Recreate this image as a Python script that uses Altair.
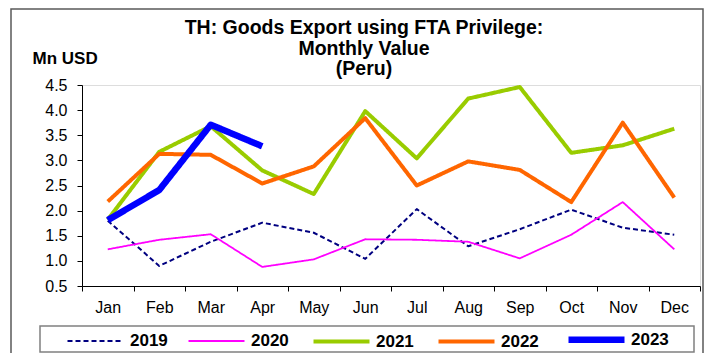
import altair as alt
import pandas as pd

months = ["Jan", "Feb", "Mar", "Apr", "May", "Jun", "Jul", "Aug", "Sep", "Oct", "Nov", "Dec"]
years = ["2019", "2020", "2021", "2022", "2023"]
v2019 = [1.80, 0.90, 1.38, 1.76, 1.56, 1.04, 2.03, 1.29, 1.63, 2.02, 1.66, 1.52]
v2020 = [1.23, 1.42, 1.53, 0.88, 1.03, 1.43, 1.42, 1.38, 1.05, 1.52, 2.17, 1.23]
v2021 = [1.82, 3.17, 3.68, 2.80, 2.33, 3.98, 3.04, 4.23, 4.46, 3.15, 3.30, 3.63]
v2022 = [2.18, 3.13, 3.11, 2.54, 2.88, 3.84, 2.50, 2.98, 2.81, 2.17, 3.75, 2.26]
v2023 = [1.81, 2.41, 3.71, 3.28]

colors = ["#000080", "#FF00FF", "#99CC00", "#FF6600", "#0000FF"]
dashes = [[5, 3], [1, 0], [1, 0], [1, 0], [1, 0]]
widths = [2, 1.8, 4, 4, 6.5]

series = [v2019, v2020, v2021, v2022, v2023]
rows = []
for y, vals in zip(years, series):
    for i, v in enumerate(vals):
        rows.append({"month": months[i], "idx": i, "year": y, "value": v})
df = pd.DataFrame(rows)

FONT = "Liberation Sans"

x_enc = alt.X(
    "month:N",
    sort=months,
    bandPosition=0.5,
    scale=alt.Scale(type="band", paddingInner=0, paddingOuter=0, domain=months),
    axis=alt.Axis(
        title=None, labelAngle=0, tickBand="extent", tickSize=5, labelPadding=8,
        labelFontSize=16, labelFont=FONT, labelColor="black",
        domainColor="black", tickColor="black", grid=False,
    ),
)
y_enc = alt.Y(
    "value:Q",
    scale=alt.Scale(domain=[0.5, 4.5], nice=False, zero=False),
    axis=alt.Axis(
        values=[0.5, 1.0, 1.5, 2.0, 2.5, 3.0, 3.5, 4.0, 4.5], format=".1f",
        tickSize=5, labelPadding=10, labelFontSize=16, labelFont=FONT, labelColor="black",
        domainColor="black", tickColor="black", grid=False,
        title="Mn USD", titleAngle=0, titleX=-50, titleY=-22, titleAlign="left",
        titleBaseline="alphabetic", titleFontSize=17, titleFont=FONT,
        titleFontWeight="bold", titleColor="black",
    ),
)

legend = alt.Legend(
    orient="none", legendX=-18, legendY=223, direction="horizontal", columns=5,
    title=None, symbolType="stroke", symbolSize=3136, labelFontSize=17,
    labelFont=FONT, labelFontWeight="bold", labelColor="black", labelOffset=3,
    columnPadding=16, padding=0,
)

lines = alt.Chart(df).mark_line(strokeCap="butt", strokeJoin="round").encode(
    x=x_enc,
    y=y_enc,
    color=alt.Color("year:O", scale=alt.Scale(type="ordinal", domain=years, range=colors), legend=legend),
    strokeDash=alt.StrokeDash("year:O", scale=alt.Scale(type="ordinal", domain=years, range=dashes), legend=legend),
    strokeWidth=alt.StrokeWidth("year:O", scale=alt.Scale(type="ordinal", domain=years, range=widths), legend=legend),
    order="idx:Q",
)

box_df = pd.DataFrame({"k": [0]})
frame = alt.Chart(box_df).mark_rect(fillOpacity=0, stroke="#595959", strokeWidth=1.5).encode(
    x=alt.value(-71), x2=alt.value(621), y=alt.value(-76), y2=alt.value(290)
)
legbox = alt.Chart(box_df).mark_rect(fillOpacity=0, stroke="#808080", strokeWidth=1.5).encode(
    x=alt.value(-42), x2=alt.value(612), y=alt.value(241), y2=alt.value(267)
)

chart = alt.layer(frame, legbox, lines).properties(
    width=618,
    height=201,
    padding={"left": 74, "top": 77, "right": 4, "bottom": 67},
    autosize=alt.AutoSizeParams(type="none"),
    title=alt.TitleParams(
        text=["TH: Goods Export using FTA Privilege:", "Monthly Value", "(Peru)"],
        anchor="middle", frame="group", dx=-27, offset=-86.25, baseline="alphabetic",
        fontSize=19.5, font=FONT, fontWeight="bold", color="black", lineHeight=20.3,
    ),
).configure_view(strokeWidth=0).configure(background="white")

chart.save("out.html", embed_options={"renderer": "svg", "actions": False})
